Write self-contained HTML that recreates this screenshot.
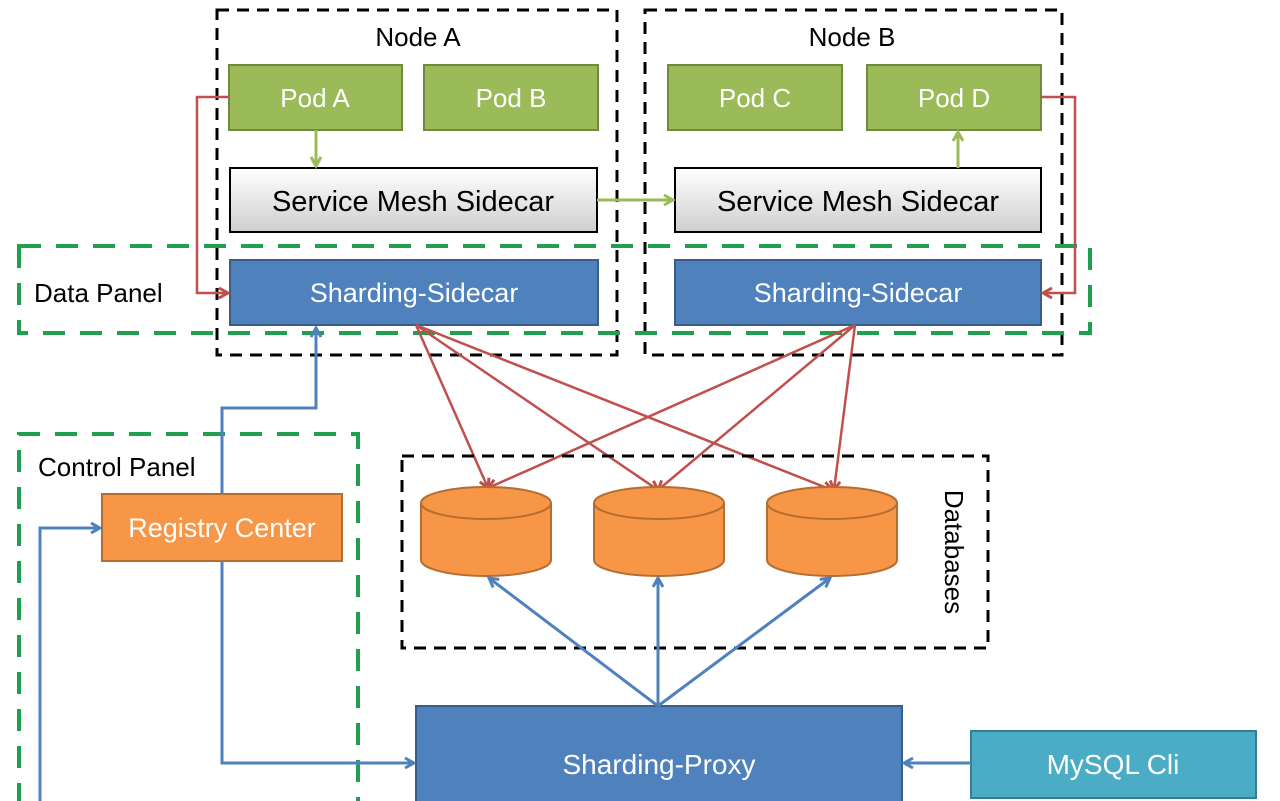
<!DOCTYPE html>
<html><head><meta charset="utf-8"><style>
html,body{margin:0;padding:0;background:#fff;}
svg{display:block;font-family:"Liberation Sans","DejaVu Sans",sans-serif;}
</style></head><body>
<svg width="1280" height="801" viewBox="0 0 1280 801" xmlns="http://www.w3.org/2000/svg">
<defs>
<linearGradient id="g" x1="0" y1="0" x2="0" y2="1"><stop offset="0" stop-color="#ffffff"/><stop offset="1" stop-color="#cfcfcf"/></linearGradient>
<marker id="ar" markerWidth="14" markerHeight="14" refX="11" refY="7" orient="auto" markerUnits="userSpaceOnUse"><path d="M2,2 L11,7 L2,12" fill="none" stroke="#c0504d" stroke-width="3"/></marker>
<marker id="ab" markerWidth="14" markerHeight="14" refX="11" refY="7" orient="auto" markerUnits="userSpaceOnUse"><path d="M2,2 L11,7 L2,12" fill="none" stroke="#4f81bd" stroke-width="3"/></marker>
<marker id="ag" markerWidth="14" markerHeight="14" refX="11" refY="7" orient="auto" markerUnits="userSpaceOnUse"><path d="M2,2 L11,7 L2,12" fill="none" stroke="#9bbb59" stroke-width="3"/></marker>
</defs>
<rect x="217" y="10" width="400" height="345" fill="none" stroke="#000" stroke-width="3" stroke-dasharray="12,8"/>
<rect x="645" y="10" width="417" height="345" fill="none" stroke="#000" stroke-width="3" stroke-dasharray="12,8"/>
<text x="418" y="46" font-size="26" text-anchor="middle">Node A</text>
<text x="852" y="46" font-size="26" text-anchor="middle">Node B</text>
<g fill="#9bbb59" stroke="#71893f" stroke-width="2">
<rect x="229" y="65" width="173" height="65"/><rect x="424" y="65" width="174" height="65"/>
<rect x="668" y="65" width="174" height="65"/><rect x="867" y="65" width="174" height="65"/>
</g>
<g fill="#fff" font-size="26" text-anchor="middle">
<text x="315" y="107">Pod A</text><text x="511" y="107">Pod B</text>
<text x="755" y="107">Pod C</text><text x="954" y="107">Pod D</text>
</g>
<rect x="230" y="168" width="367" height="64" fill="url(#g)" stroke="#000" stroke-width="2"/>
<rect x="675" y="168" width="366" height="64" fill="url(#g)" stroke="#000" stroke-width="2"/>
<text x="413" y="211" font-size="29" text-anchor="middle">Service Mesh Sidecar</text>
<text x="858" y="211" font-size="29" text-anchor="middle">Service Mesh Sidecar</text>
<rect x="19" y="246" width="1071" height="87" fill="none" stroke="#1fa04f" stroke-width="4" stroke-dasharray="22,15"/>
<text x="34" y="302" font-size="26">Data Panel</text>
<rect x="230" y="260" width="368" height="65" fill="#4f81bd" stroke="#385d8a" stroke-width="2"/>
<rect x="675" y="260" width="366" height="65" fill="#4f81bd" stroke="#385d8a" stroke-width="2"/>
<g fill="#fff" font-size="27" text-anchor="middle"><text x="414" y="302">Sharding-Sidecar</text><text x="858" y="302">Sharding-Sidecar</text></g>
<g stroke="#9bbb59" stroke-width="3" fill="none">
<path d="M316,130 V166" marker-end="url(#ag)"/>
<path d="M597,200 H673" marker-end="url(#ag)"/>
<path d="M958,168 V132" marker-end="url(#ag)"/>
</g>
<g stroke="#c0504d" stroke-width="2.5" fill="none" marker-end="url(#ar)">
<path d="M229,97 H197 V293 H228"/>
<path d="M1041,97 H1075 V293 H1043"/>
<path d="M416,325 L488,488"/><path d="M416,325 L658,490"/><path d="M416,325 L832,490"/>
<path d="M855,325 L488,488"/><path d="M855,325 L658,490"/><path d="M855,325 L834,490"/>
</g>
<path d="M19,805 V434 H358 V805" fill="none" stroke="#1fa04f" stroke-width="4" stroke-dasharray="22,15"/>
<text x="38" y="476" font-size="26">Control Panel</text>
<rect x="102" y="494" width="240" height="67" fill="#f79646" stroke="#b66d31" stroke-width="2"/>
<text x="222" y="537" font-size="27" fill="#fff" text-anchor="middle">Registry Center</text>
<rect x="402" y="456" width="586" height="192" fill="none" stroke="#000" stroke-width="3" stroke-dasharray="12,8"/>
<text transform="translate(945,552) rotate(90)" font-size="26" text-anchor="middle">Databases</text>
<g fill="#f79646" stroke="#b66d31" stroke-width="2">
<path d="M421,503 V560 A65,16 0 0 0 551,560 V503"/><ellipse cx="486" cy="503" rx="65" ry="16"/>
<path d="M594,503 V560 A65,16 0 0 0 724,560 V503"/><ellipse cx="659" cy="503" rx="65" ry="16"/>
<path d="M767,503 V560 A65,16 0 0 0 897,560 V503"/><ellipse cx="832" cy="503" rx="65" ry="16"/>
</g>
<rect x="416" y="706" width="486" height="100" fill="#4f81bd" stroke="#385d8a" stroke-width="2"/>
<text x="659" y="774" font-size="28" fill="#fff" text-anchor="middle">Sharding-Proxy</text>
<rect x="971" y="731" width="285" height="67" fill="#4bacc6" stroke="#357d91" stroke-width="2"/>
<text x="1113" y="774" font-size="28" fill="#fff" text-anchor="middle">MySQL Cli</text>
<g stroke="#4f81bd" stroke-width="3" fill="none" marker-end="url(#ab)">
<path d="M658,706 L489,578"/><path d="M658,706 V578"/><path d="M658,706 L830,578"/>
<path d="M222,494 V408 H316 V328"/>
<path d="M222,561 V763 H414"/>
<path d="M40,805 V528 H100"/>
<path d="M971,763 H904"/>
</g>
</svg>
</body></html>
